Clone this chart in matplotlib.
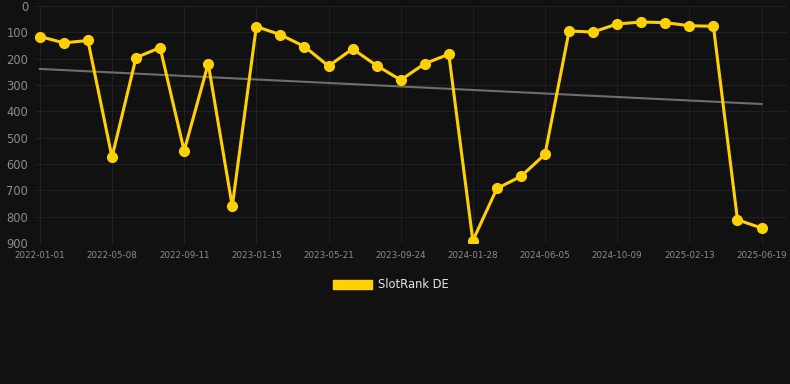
import numpy as np
import matplotlib.pyplot as plt
from matplotlib.patches import Patch

# rank values (lower = better)
tick_labels = ['2022-01-01', '2022-05-08', '2022-09-11', '2023-01-15', '2023-05-21',
               '2023-09-24', '2024-01-28', '2024-06-05', '2024-10-09', '2025-02-13',
               '2025-06-19']
rank_de = [116, 140, 131, 574, 196, 158, 550, 219, 761, 78,
           109, 154, 228, 163, 226, 281, 219, 183, 891, 693, 647,
           563, 95, 99, 68, 61, 63, 75, 77, 812, 843]

bg = '#111111'
x = np.arange(len(rank_de))

# linear trend line
slope, intercept = np.polyfit(x, rank_de, 1)
trend = slope * x + intercept

fig = plt.figure(figsize=(7.9, 3.84), dpi=100, facecolor=bg)
ax = fig.add_axes([35 / 790, 1 - 243 / 384, 753 / 790, 237 / 384], facecolor=bg)

ax.plot(x, trend, color='#6e6e6e', linewidth=1.5, zorder=2)
ax.plot(x, rank_de, color='#FFD100', linewidth=2.2, marker='o', markersize=7,
        zorder=3, label='SlotRank DE')

ax.set_xlim(-0.2, 31.1)
ax.set_ylim(900, 0)
ax.set_yticks(range(0, 901, 100))
ax.set_xticks(x[::3])
ax.set_xticklabels(tick_labels)

ax.grid(True, color='#202020', linewidth=0.8)
ax.set_axisbelow(True)
for s in ax.spines.values():
    s.set_visible(False)
ax.tick_params(axis='y', length=0, pad=5, labelsize=8.3, labelcolor='#8c8c8c')
ax.tick_params(axis='x', length=0, pad=6, labelsize=6.3, labelcolor='#8c8c8c')

# legend: filled box like the original
leg = fig.legend(handles=[Patch(facecolor='#FFD100', edgecolor='#FFD100', label='SlotRank DE')],
                 loc='center', bbox_to_anchor=(391 / 790, 1 - 285 / 384), frameon=False,
                 fontsize=8.3, labelcolor='#e6e6e6', handlelength=3.4, handleheight=0.9,
                 handletextpad=0.5)

fig.savefig('out.png', dpi=100, facecolor=bg)
